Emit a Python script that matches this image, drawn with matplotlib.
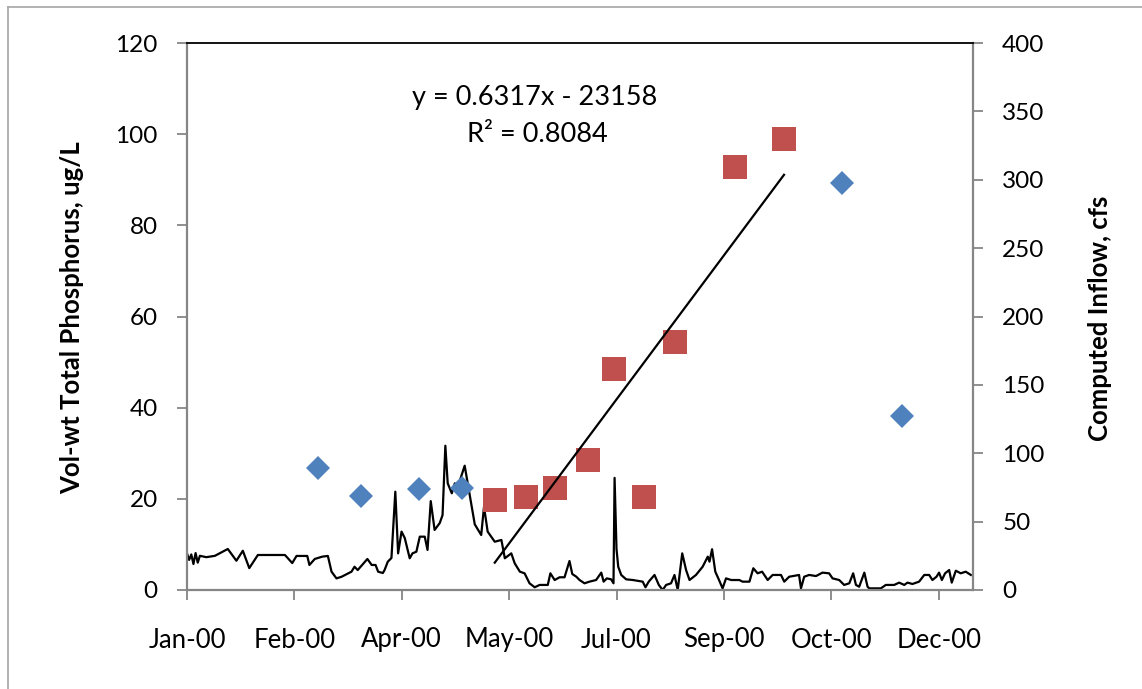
import numpy as np
import matplotlib
matplotlib.use("Agg")
import matplotlib.pyplot as plt
import matplotlib.dates as mdates
from matplotlib.lines import Line2D

plt.rcParams['font.family'] = ['Lato', 'DejaVu Sans']

# computed inflow, cfs (right axis), days after 1 Jan 2000
flow_day = [0, 1, 2, 3, 4, 5, 6, 9, 13, 19,
            23, 26, 29, 33, 45.6, 49, 51, 56, 57, 59.5,
            63, 65.6, 67.3, 69.6, 72, 76.6, 78, 79.5, 84, 86,
            87.8, 89, 91.2, 92, 93.5, 95.2, 97, 98.3, 99.9, 101.4,
            103.7, 105, 106.8, 108.4, 110.7, 112, 113.5, 115.3, 117.7, 119,
            120.3, 121.4, 123.3, 124.7, 125.9, 127.4, 129.3, 130.7, 134, 137,
            138.3, 140, 143.3, 146.4, 148, 151, 152.6, 155, 157.2, 159.5,
            161.9, 164.2, 168, 169.2, 171.2, 173.5, 175.8, 178.1, 179.4, 181.3,
            182.8, 185.1, 187.4, 190.5, 192.9, 194, 195.5, 197.5, 198.6, 199.1,
            200, 200.8, 202.2, 204.5, 207.6, 212.2, 213.5, 215, 217.7, 219.7,
            221.5, 223.1, 225.4, 227, 228.5, 230.6, 232.4, 234, 237, 240.1,
            242.5, 243.3, 244.5, 246, 247.6, 249.4, 251, 253.4, 257.2, 258.7,
            261.9, 263.7, 265.7, 267.8, 270.4, 272.7, 276.6, 278.1, 280.4, 285,
            285.9, 287.4, 289.7, 292.9, 295.9, 299, 300.6, 303.7, 306, 308.4,
            310.2, 311.5, 313, 315.4, 316.9, 317.7, 323.1, 325.4, 329.3, 331.6,
            334, 335.5, 337.8, 340.9, 343.3, 345.6, 347.1, 349, 350.2, 351.5,
            353, 354.9, 356.1, 358, 360.3, 362.6, 365]
flow_cfs = [26.8, 22, 26, 19, 27, 20, 25, 24, 25, 30,
            21.4, 28.7, 16, 25.6, 25.6, 19.7, 24.9, 24.9, 18.3, 22.7,
            24.4, 24.9, 13.4, 8.5, 9.7, 13.4, 17, 14.6, 22.7, 18.3,
            18.3, 13.4, 12.4, 14.6, 20.7, 23.4, 71.9, 26.8, 42.7, 38,
            23.2, 26.8, 28, 39, 39, 29.3, 65, 43.9, 49, 54.8,
            105.5, 78, 70.7, 78, 74.4, 81.7, 90.9, 78, 48, 40.2,
            60.9, 42.7, 35.3, 36.6, 23.2, 26.8, 19.5, 13.4, 12.2, 4.9,
            2, 3.7, 3.7, 12.2, 7.3, 9.3, 9.3, 21.2, 11.7, 9.7,
            7.3, 4.9, 6.1, 7.3, 12.7, 6.1, 8.5, 7.8, 4.9, 82,
            30, 17, 11, 7.8, 7.3, 6.1, 2, 6.1, 11, 3.7,
            0, 3.7, 4.9, 11, 0, 26.8, 14.6, 7.3, 11, 17,
            24.4, 20.7, 29.8, 13.4, 7.8, 1.2, 8.5, 7.3, 7.3, 6.1,
            6.1, 15.9, 12.2, 13.4, 7.3, 11, 11, 6.1, 9.7, 11,
            1.2, 9.7, 11, 10.2, 12.7, 12.2, 8.5, 7.3, 3.7, 4.9,
            12.2, 3.7, 2.4, 12.7, 2.4, 1.2, 1.2, 3.7, 3.7, 5.4,
            3.7, 5.4, 4.4, 6.1, 11, 11, 7.3, 9.7, 12.7, 7.3,
            12.2, 14.6, 5.4, 14.1, 12.2, 13.4, 11]
assert len(flow_day) == len(flow_cfs)

# vol-wt total phosphorus, ug/L (left axis)
blue_day = [61, 81, 108, 128, 305, 333]
blue_tp = [26.8, 20.6, 22.1, 22.3, 89.3, 38.2]
red_day = [143.3, 157.7, 171.5, 186.5, 199, 213, 227.4, 255.3, 278]
red_tp = [19.7, 20.5, 22.3, 28.5, 48.5, 20.5, 54.4, 92.8, 99]

# linear trend shown in the chart (x = Excel date serial)
slope, intercept = 0.6317, -23158
excel_jan1 = 36526

start = np.datetime64('2000-01-01')


def to_dates(days):
    return start + (np.array(days) * 24 * 60).astype('timedelta64[m]')


grey = '#868686'
fig = plt.figure(figsize=(11.42, 6.89), dpi=100)
ax = fig.add_axes([187 / 1142, 1 - 590 / 689, (973 - 187) / 1142, (590 - 43) / 689])
ax2 = ax.twinx()

ax2.plot(to_dates(flow_day), flow_cfs, color='black', lw=1.6, zorder=2)

ax.set_zorder(ax2.get_zorder() + 1)
ax.patch.set_visible(False)
ax.plot(to_dates(blue_day), blue_tp, 'D', color='#4F81BD', ms=12.5, mew=0, zorder=3)
ax.plot(to_dates(red_day), red_tp, 's', color='#C0504D', ms=17, mew=0, zorder=3)

trend_x = np.array([min(red_day), max(red_day)])
trend_y = slope * (trend_x + excel_jan1) + intercept
ax.plot(to_dates(trend_x), trend_y, color='black', lw=1.6, zorder=4)

ax.set_ylim(0, 120)
ax.set_yticks(range(0, 121, 20))
ax2.set_ylim(0, 400)
ax2.set_yticks(range(0, 401, 50))

ticks = to_dates(range(0, 351, 50))
ax.set_xlim(to_dates([0])[0], to_dates([366])[0])
ax.set_xticks(ticks)
ax.xaxis.set_major_formatter(mdates.DateFormatter('%b-%y'))

for a in (ax, ax2):
    for s in a.spines.values():
        s.set_visible(False)
ax.spines['left'].set_visible(True)
ax.spines['left'].set_color(grey)
ax.spines['left'].set_linewidth(1.6)
ax.spines['bottom'].set_visible(True)
ax.spines['bottom'].set_color(grey)
ax.spines['bottom'].set_linewidth(1.6)
ax.spines['top'].set_visible(True)
ax.spines['top'].set_color('black')
ax.spines['top'].set_linewidth(1.3)
ax2.spines['right'].set_visible(True)
ax2.spines['right'].set_color(grey)
ax2.spines['right'].set_linewidth(1.6)

ax.tick_params(axis='y', direction='out', length=7, width=1.3, color=grey,
               labelsize=17.5, pad=14)
ax.tick_params(axis='x', direction='out', length=7, width=1.3, color=grey,
               labelsize=18.5, pad=20)
ax2.tick_params(axis='y', direction='out', length=7, width=1.3, color=grey,
                labelsize=17.5, pad=14)

fig.text(72 / 1142, 1 - 318 / 689, 'Vol-wt Total Phosphorus, ug/L', rotation=90,
         ha='center', va='center', fontsize=18.5, fontweight='bold')
fig.text(1100 / 1142, 1 - 318 / 689, 'Computed Inflow, cfs', rotation=90,
         ha='center', va='center', fontsize=18.5, fontweight='bold')

fig.text(535 / 1142, 1 - 98 / 689, 'y = 0.6317x - 23158', ha='center', va='center',
         fontsize=19.5)
fig.text(537 / 1142, 1 - 135 / 689, 'R² = 0.8084', ha='center', va='center',
         fontsize=19.5)

# outer chart border (only left and top fall inside the picture)
fig.add_artist(Line2D([8 / 1142, 8 / 1142], [0, 1 - 7 / 689], color='#A6A6A6', lw=1.2))
fig.add_artist(Line2D([8 / 1142, 1], [1 - 7 / 689, 1 - 7 / 689], color='#A6A6A6', lw=1.2))

fig.savefig('out.png', dpi=100)
